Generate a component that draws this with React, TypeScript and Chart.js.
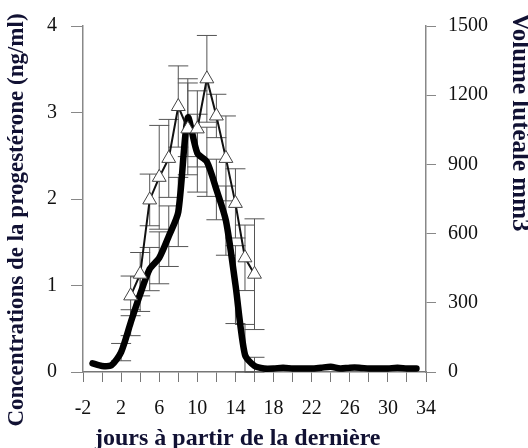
import { useEffect, useRef } from 'react';
import { Chart, registerables } from 'chart.js';

Chart.register(...registerables);

// Progesterone concentration (ng/ml), thick line, left axis
const progDays = [-1, 0, 1, 2, 3, 4, 5, 6, 7, 8, 9, 10, 11, 12, 13, 14, 15, 16, 17, 18, 19, 20, 21, 22, 23, 24, 25, 26, 27, 28, 29, 30, 31, 32, 33];
const progValues = [0.10, 0.07, 0.08, 0.23, 0.57, 0.9, 1.19, 1.32, 1.57, 1.85, 2.94, 2.53, 2.43, 2.11, 1.75, 1.01, 0.2, 0.07, 0.04, 0.04, 0.05, 0.04, 0.04, 0.04, 0.05, 0.06, 0.04, 0.05, 0.05, 0.04, 0.04, 0.04, 0.05, 0.04, 0.04];
const progErr = [0, 0, 0, 0.1, 0.15, 0.2, 0.25, 0.3, 0.35, 0.4, 0.45, 0.45, 0.4, 0.35, 0.4, 0.45, 0.35, 0.1, 0, 0, 0, 0, 0, 0, 0, 0, 0, 0, 0, 0, 0, 0, 0, 0, 0];

// Luteal volume (mm3), triangles, right axis
const volDays = [3, 4, 5, 6, 7, 8, 9, 10, 11, 12, 13, 14, 15, 16];
const volValues = [330, 424, 746, 844, 926, 1151, 1054, 1054, 1271, 1110, 926, 731, 495, 424];
const volErr = [86, 94, 112, 225, 169, 176, 199, 165, 188, 94, 184, 150, 142, 240];

const xTickLabels = [-2, 2, 6, 10, 14, 18, 22, 26, 30, 34];
const leftTicks = [0, 1, 2, 3, 4];
const rightTicks = [0, 300, 600, 900, 1200, 1500];

const leftTitle = 'Concentrations de la progestérone (ng/ml)';
const rightTitle = 'Volume lutéale mm3';
const xTitle = 'jours à partir de la dernière';

const SERIF = "'Liberation Serif', 'DejaVu Serif', serif";

export default function App() {
  const ref = useRef<HTMLCanvasElement>(null);

  useEffect(() => {
    if (!ref.current) return;

    const errorBars = {
      id: 'errorBars',
      beforeDatasetsDraw(chart: any) {
        const ctx = chart.ctx;
        const xs = chart.scales.x;
        const sets = [
          { days: progDays, vals: progValues, errs: progErr, ys: chart.scales.y },
          { days: volDays, vals: volValues, errs: volErr, ys: chart.scales.y1 },
        ];
        ctx.save();
        ctx.strokeStyle = '#555';
        ctx.lineWidth = 1;
        for (const s of sets) {
          s.days.forEach((d, i) => {
            const e = s.errs[i];
            if (!e) return;
            const x = xs.getPixelForValue(d);
            const yt = s.ys.getPixelForValue(s.vals[i] + e);
            const yb = s.ys.getPixelForValue(Math.max(0, s.vals[i] - e));
            ctx.beginPath();
            ctx.moveTo(x, yt);
            ctx.lineTo(x, yb);
            ctx.moveTo(x - 10, yt);
            ctx.lineTo(x + 10, yt);
            ctx.moveTo(x - 10, yb);
            ctx.lineTo(x + 10, yb);
            ctx.stroke();
          });
        }
        ctx.restore();
      },
    };

    const titles = {
      id: 'titles',
      afterDraw(chart: any) {
        const ctx = chart.ctx;
        ctx.save();
        ctx.fillStyle = '#111133';
        ctx.textBaseline = 'middle';
        // left
        ctx.save();
        ctx.font = `bold 23px ${SERIF}`;
        ctx.translate(17, 220);
        ctx.rotate(-Math.PI / 2);
        ctx.textAlign = 'center';
        ctx.fillText(leftTitle, 0, 0);
        ctx.restore();
        // right
        ctx.save();
        ctx.font = `bold 25px ${SERIF}`;
        ctx.translate(519, 13);
        ctx.rotate(Math.PI / 2);
        ctx.textAlign = 'left';
        ctx.fillText(rightTitle, 0, 0);
        ctx.restore();
        // x
        ctx.font = `bold 24px ${SERIF}`;
        ctx.textAlign = 'left';
        ctx.textBaseline = 'alphabetic';
        ctx.fillText(xTitle, 95, 445);
        ctx.restore();
      },
    };

    const tickFont = { family: SERIF, size: 20 };

    const chart = new Chart(ref.current, {
      type: 'line',
      data: {
        datasets: [
          {
            label: 'Volume lutéale',
            data: volDays.map((d, i) => ({ x: d, y: volValues[i] })),
            yAxisID: 'y1',
            borderColor: '#111',
            borderWidth: 2,
            pointStyle: 'triangle',
            pointRadius: 8,
            pointBackgroundColor: '#fff',
            pointBorderColor: '#444',
            pointBorderWidth: 1,
            tension: 0,
          },
          {
            label: 'Progestérone',
            data: progDays.map((d, i) => ({ x: d, y: progValues[i] })),
            yAxisID: 'y',
            borderColor: '#000',
            borderWidth: 6.5,
            pointRadius: 0,
            tension: 0.25,
            borderJoinStyle: 'round',
            borderCapStyle: 'round',
          },
        ],
      },
      options: {
        responsive: false,
        animation: false,
        layout: { padding: { top: 22, left: 0, right: 0, bottom: 0 } },
        plugins: { legend: { display: false }, tooltip: { enabled: false }, title: { display: false } },
        scales: {
          x: {
            type: 'linear',
            min: -2,
            max: 34,
            afterFit: (s: any) => { s.height = 76; },
            afterBuildTicks: (s: any) => {
              const t = [];
              for (let v = -2; v <= 34; v += 2) t.push({ value: v });
              s.ticks = t;
            },
            ticks: {
              autoSkip: false,
              maxRotation: 0,
              padding: 15,
              color: '#111',
              font: tickFont,
              callback: (v: any) => (xTickLabels.includes(Number(v)) ? String(v) : ''),
            },
            grid: { drawOnChartArea: false, drawTicks: true, tickLength: 10, color: '#777' },
            border: { display: true, color: '#777', width: 1.5 },
          },
          y: {
            position: 'left',
            min: 0,
            max: 4,
            afterFit: (s: any) => { s.width = 83; },
            afterBuildTicks: (s: any) => { s.ticks = leftTicks.map((v) => ({ value: v })); },
            ticks: { padding: 14, color: '#111', font: tickFont, callback: (v: any) => String(v) },
            grid: { drawOnChartArea: false, drawTicks: true, tickLength: 12, color: '#888' },
            border: { display: true, color: '#888', width: 1.5 },
          },
          y1: {
            position: 'right',
            min: 0,
            max: 1500,
            afterFit: (s: any) => { s.width = 102; },
            afterBuildTicks: (s: any) => { s.ticks = rightTicks.map((v) => ({ value: v })); },
            ticks: { padding: 12, color: '#111', font: tickFont, callback: (v: any) => String(v) },
            grid: { drawOnChartArea: false, drawTicks: true, tickLength: 10, color: '#888' },
            border: { display: true, color: '#888', width: 1.5 },
          },
        },
      },
      plugins: [errorBars, titles],
    });

    return () => chart.destroy();
  }, []);

  return (
    <div style={{ position: 'fixed', left: 0, top: 0, width: 528, height: 448, background: '#fff' }}>
      <canvas ref={ref} width={528} height={448} style={{ display: 'block' }} />
    </div>
  );
}
